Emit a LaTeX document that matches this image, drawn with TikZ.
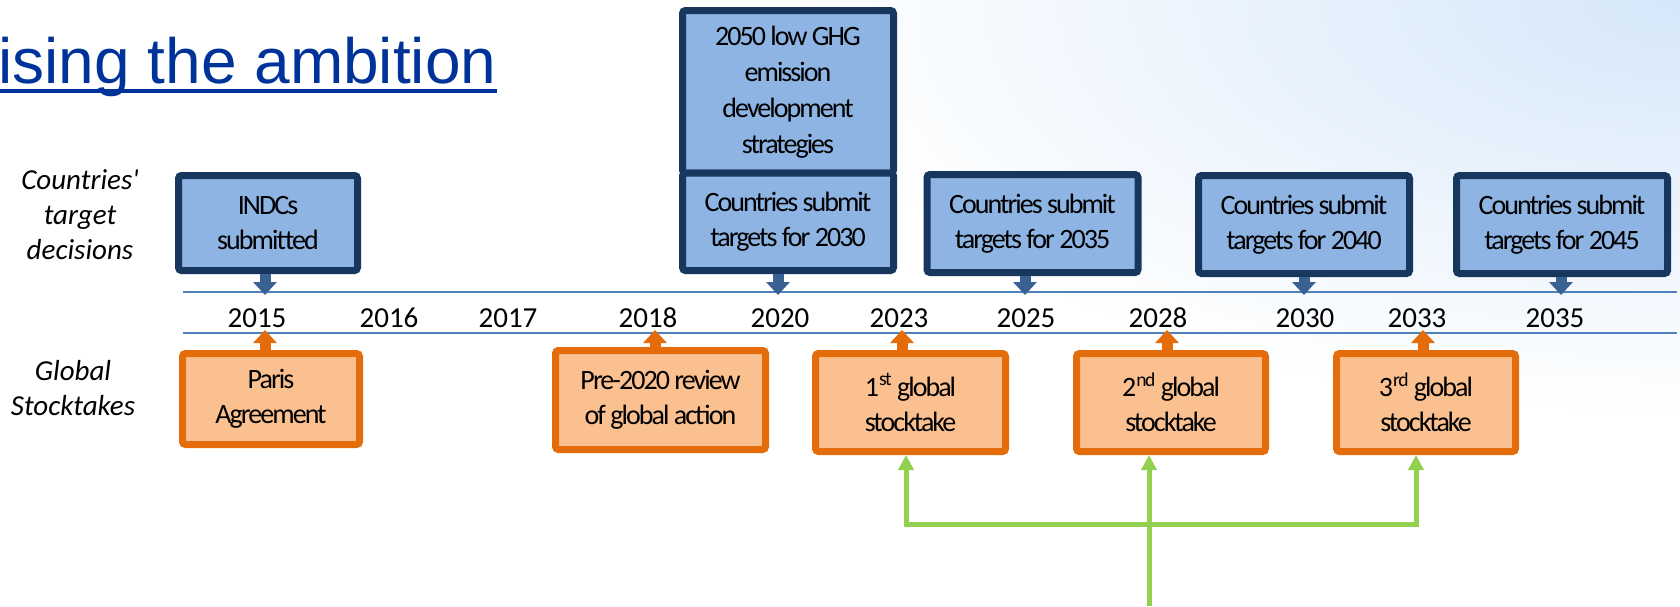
\documentclass[tikz,border=0pt]{standalone}
\usepackage{fontspec}
\setmainfont{Carlito}
\newfontfamily\boxfont[LetterSpace=-7]{Carlito}
\newfontfamily\titlefont{Liberation Sans}
\usepackage{tikz}
\usetikzlibrary{arrows.meta}
\definecolor{titleblue}{RGB}{0,51,153}
\definecolor{boxblue}{RGB}{142,180,227}
\definecolor{navyline}{RGB}{23,55,94}
\definecolor{arrowblue}{RGB}{59,96,146}
\definecolor{axisblue}{RGB}{79,129,189}
\definecolor{boxorange}{RGB}{250,192,144}
\definecolor{edgeorange}{RGB}{228,108,10}
\definecolor{leafgreen}{RGB}{146,208,80}
\definecolor{bgblue}{RGB}{213,231,250}

\tikzset{
  targetbox/.style={draw=navyline, fill=boxblue, line width=3.5pt, rounded corners=1.5pt,
    minimum width=105.5pt, minimum height=49pt, align=center, inner sep=0pt,
    font=\boxfont\fontsize{14}{17.5}\selectfont},
  reviewbox/.style={targetbox, draw=edgeorange, fill=boxorange},
  submitarrow/.style={arrowblue, line width=5.5pt, -{Triangle[width=11.5pt,length=6.5pt]}},
  reviewarrow/.style={submitarrow, edgeorange},
  linkarrow/.style={leafgreen, line width=2.5pt, -{Triangle[width=7.5pt,length=7.5pt]}},
  yearlabel/.style={font=\fontsize{14.5}{17.5}\selectfont, inner sep=0pt},
  rowlabel/.style={font=\itshape\fontsize{14.5}{17.5}\selectfont, align=center, inner sep=0pt}
}

\begin{document}
\begin{tikzpicture}[x=0.5pt,y=-0.5pt]
    \useasboundingbox (0,0) rectangle (1680,606);

    % background
    \begin{scope}
        \clip (0,0) rectangle (1680,606);
        \fill[white] (0,0) rectangle (1680,606);
        \shade[inner color=bgblue, outer color=white] (780,-420) rectangle (2580,420);
    \end{scope}

    % title
    \node[font=\titlefont\fontsize{32}{38}\selectfont, text=titleblue, anchor=base west, inner sep=0pt]
        (title) at (-2,83) {ising the ambition};
    \draw[titleblue, line width=2.2pt] ([yshift=-4pt]title.base west) -- ([yshift=-4pt]title.base east);

    % row labels
    \node[rowlabel] (targetrow) at (80,215) {Countries\textquotesingle\\target\\decisions};
    \node[rowlabel] (stockrow) at (73,388) {Global\\Stocktakes};

    % timeline
    \draw[axisblue, line width=1pt] (183,291.5) -- (1677,291.5);
    \draw[axisblue, line width=1pt] (183,332.5) -- (1677,332.5);
    \foreach \yr/\xx in {2015/257,2016/389,2017/508,2018/648,2020/780,2023/899,
                         2025/1026,2028/1158,2030/1305,2033/1417,2035/1555}
        \node[yearlabel] (y\yr) at (\xx,318) {\yr};

    % target decisions
    \node[targetbox, minimum width=89.5pt, minimum height=47.5pt] (indc) at (268,223) {INDCs\\submitted};
    \node[targetbox, minimum height=81.25pt, font=\boxfont\fontsize{14}{18}\selectfont]
        (lowghg) at (788,91.75) {2050 low GHG\\emission\\development\\strategies};
    \node[targetbox, minimum height=48.75pt] (sub2030) at (788,221.75) {Countries submit\\targets for 2030};
    \node[targetbox] (sub2035) at (1032.5,223.5) {Countries submit\\targets for 2035};
    \node[targetbox] (sub2040) at (1304,224.5) {Countries submit\\targets for 2040};
    \node[targetbox] (sub2045) at (1562,224.5) {Countries submit\\targets for 2045};

    % stocktakes
    \node[reviewbox, minimum width=88.5pt, minimum height=45.5pt] (paris) at (271,399) {Paris\\Agreement};
    \node[reviewbox, minimum width=105pt, minimum height=49.5pt] (pre2020) at (660.5,400) {Pre-2020 review\\of global action};
    \node[reviewbox, minimum width=95pt] (gst1) at (910.5,402.5) {1\textsuperscript{st} global\\stocktake};
    \node[reviewbox, minimum width=94.5pt] (gst2) at (1171,402.5) {2\textsuperscript{nd} global\\stocktake};
    \node[reviewbox, minimum width=89.5pt] (gst3) at (1426,402.5) {3\textsuperscript{rd} global\\stocktake};

    % arrows onto the timeline
    \foreach \src/\yr/\xx in {indc/2015/265, sub2030/2020/778, sub2035/2025/1025,
                              sub2040/2030/1304, sub2045/2035/1561} {
        \coordinate (tip\yr) at (\xx,295);
        \draw[submitarrow] (\src.south -| tip\yr) -- (tip\yr);
    }
    \foreach \src/\yr/\xx in {paris/2015/265, pre2020/2018/655, gst1/2023/902,
                              gst2/2028/1167, gst3/2033/1423} {
        \coordinate (rev\yr) at (\xx,330);
        \draw[reviewarrow] (\src.north -| rev\yr) -- (rev\yr);
    }

    % links into the stocktakes
    \coordinate (hub) at (1149,524);
    \coordinate (foot) at (1149,606);
    \draw[linkarrow] (foot) -- (gst2.south -| hub);
    \draw[linkarrow] (hub) -| ([xshift=-2.25pt]gst1.south);
    \draw[linkarrow] (hub) -| ([xshift=-5pt]gst3.south);
\end{tikzpicture}
\end{document}
